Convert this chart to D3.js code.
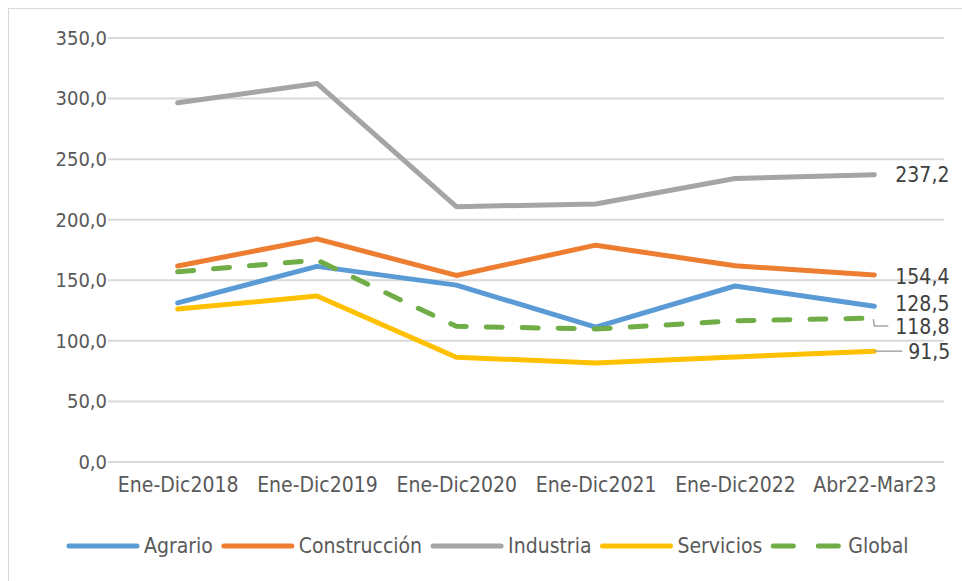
<!DOCTYPE html>
<html>
<head>
<meta charset="utf-8">
<script src="https://cdn.jsdelivr.net/npm/d3@7"></script>
<style>
  body { margin: 0; background: #fff; }
  text { font-family: "Liberation Sans Narrow", "DejaVu Sans Condensed", sans-serif; }
</style>
</head>
<body>
<div id="container"></div>
<script>
// values
const periods = ["Ene-Dic2018", "Ene-Dic2019", "Ene-Dic2020", "Ene-Dic2021", "Ene-Dic2022", "Abr22-Mar23"]
const agrario = [131.3, 161.5, 146.0, 111.4, 145.3, 128.5]
const construccion = [161.8, 184.2, 154.0, 179.0, 162.0, 154.4]
const industria = [296.5, 312.5, 210.8, 213.0, 234.0, 237.2]
const servicios = [126.3, 137.0, 86.5, 81.7, 86.7, 91.5]
const global = [157.0, 166.7, 112.0, 109.8, 116.5, 118.8]
const yTicks = [0, 50, 100, 150, 200, 250, 300, 350]

const series = [
  { name: "Agrario", values: agrario, color: "#5B9BD5", dash: null },
  { name: "Construcción", values: construccion, color: "#ED7D31", dash: null },
  { name: "Industria", values: industria, color: "#A5A5A5", dash: null },
  { name: "Servicios", values: servicios, color: "#FFC000", dash: null },
  { name: "Global", values: global, color: "#70AD47", dash: "16,20" }
]

const width = 962, height = 581
const margin = { top: 38, bottom: 119, left: 108, right: 18 }

const fmt = v => v.toFixed(1).replace(".", ",")

const svg = d3.select("#container")
  .append("svg")
  .attr("width", width)
  .attr("height", height)

// chart border (only left/top visible in the picture)
svg.append("rect")
  .attr("x", 8.5).attr("y", 8.5)
  .attr("width", 1000).attr("height", 1000)
  .attr("fill", "none")
  .attr("stroke", "#d9d9d9")

const xScale = d3.scalePoint()
  .domain(periods)
  .range([margin.left, width - margin.right])
  .padding(0.5)

const yScale = d3.scaleLinear()
  .domain([0, 350])
  .range([height - margin.bottom, margin.top])

// gridlines
svg.append("g")
  .selectAll("line")
  .data(yTicks)
  .join("line")
  .attr("x1", margin.left)
  .attr("x2", width - margin.right)
  .attr("y1", d => yScale(d))
  .attr("y2", d => yScale(d))
  .attr("stroke", "#d9d9d9")
  .attr("stroke-width", 2)

// y axis labels
const yAxis = d3.axisLeft(yScale)
  .tickValues(yTicks)
  .tickFormat(fmt)
  .tickSize(0)
  .tickPadding(0)

const yAxisGroup = svg.append("g")
  .attr("transform", `translate(${margin.left - 1}, 0)`)
  .call(yAxis)
yAxisGroup.select(".domain").remove()
yAxisGroup.selectAll("text")
  .attr("font-size", 20)
  .attr("fill", "#595959")

// x axis labels
const xAxis = d3.axisBottom(xScale).tickSize(0).tickPadding(15)
const xAxisGroup = svg.append("g")
  .attr("transform", `translate(0, ${height - margin.bottom})`)
  .call(xAxis)
xAxisGroup.select(".domain").remove()
xAxisGroup.selectAll("text")
  .attr("font-size", 21)
  .attr("fill", "#595959")

// lines
const lineGen = d3.line()
  .x((d, i) => xScale(periods[i]))
  .y(d => yScale(d))

svg.selectAll(".line")
  .data(series)
  .join("path")
  .attr("class", "line")
  .attr("fill", "none")
  .attr("stroke", d => d.color)
  .attr("stroke-width", 5)
  .attr("stroke-linejoin", "round")
  .attr("stroke-linecap", "round")
  .attr("stroke-dasharray", d => d.dash)
  .attr("d", d => lineGen(d.values))

// end labels, with manual offsets where Excel moved them
const last = periods[periods.length - 1]
const labelInfo = [
  { s: industria, dy: 0, dx: 21, leader: false },
  { s: construccion, dy: 2, dx: 21, leader: false },
  { s: agrario, dy: -3, dx: 21, leader: false },
  { s: global, dy: 9, dx: 21, leader: "elbow" },
  { s: servicios, dy: 0, dx: 34, leader: "flat" }
]
const lx = xScale(last)
labelInfo.forEach(l => {
  const v = l.s[l.s.length - 1]
  const y = yScale(v) + l.dy
  svg.append("text")
    .attr("x", lx + l.dx)
    .attr("y", y)
    .attr("dy", "0.35em")
    .attr("font-size", 21)
    .attr("fill", "#404040")
    .text(fmt(v))
  if (l.leader === "elbow") {
    svg.append("path")
      .attr("d", `M${lx - 1},${yScale(v) + 1} L${lx},${y - 1} L${lx + 14},${y - 1}`)
      .attr("fill", "none").attr("stroke", "#a6a6a6").attr("stroke-width", 1.5)
  }
  if (l.leader === "flat") {
    svg.append("line")
      .attr("x1", lx).attr("x2", lx + 28)
      .attr("y1", yScale(v)).attr("y2", yScale(v))
      .attr("stroke", "#a6a6a6").attr("stroke-width", 1.5)
  }
})

// legend
const legend = svg.append("g").attr("transform", `translate(67, 546)`)
let lxPos = 0
series.forEach(s => {
  const g = legend.append("g").attr("transform", `translate(${lxPos}, 0)`)
  g.append("line")
    .attr("x1", 2).attr("x2", 70)
    .attr("stroke", s.color)
    .attr("stroke-width", 5)
    .attr("stroke-linecap", "round")
    .attr("stroke-dasharray", s.dash ? "20,25" : null)
  const t = g.append("text")
    .attr("x", 77)
    .attr("dy", "0.35em")
    .attr("font-size", 21)
    .attr("fill", "#595959")
    .text(s.name)
  lxPos += 77 + t.node().getComputedTextLength() + 9
})
</script>
</body>
</html>
